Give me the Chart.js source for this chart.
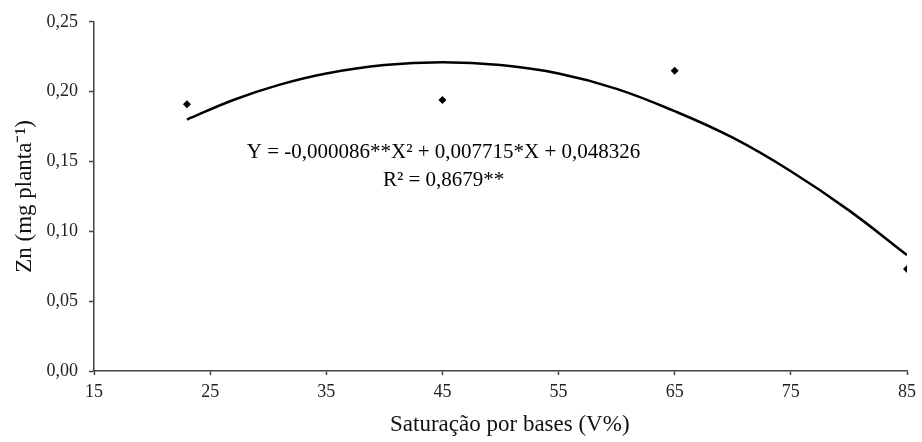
<!DOCTYPE html>
<html>
<head>
<meta charset="utf-8">
<script src="https://cdn.jsdelivr.net/npm/chart.js@4.4.1/dist/chart.umd.min.js"></script>
<style>
  html, body { margin: 0; padding: 0; background: #fff; }
  #wrap { width: 922px; height: 442px; }
</style>
</head>
<body>
<div id="wrap"><canvas id="znChart" width="922" height="442"></canvas></div>
<script>
// observed points (V% vs Zn)
var obsX = [23, 45, 65, 85];
var obsY = [0.191, 0.194, 0.215, 0.073];

// fitted curve
var fitX = [23, 27, 31, 35, 40, 45, 50, 55, 60, 65, 70, 75, 80, 85];
var fitY = [0.180, 0.194, 0.205, 0.213, 0.219, 0.221, 0.219, 0.213, 0.202, 0.186, 0.167, 0.143, 0.115, 0.083];

var xTicks = [15, 25, 35, 45, 55, 65, 75, 85];
var yTicks = [0, 0.05, 0.10, 0.15, 0.20, 0.25];

var xTitle = 'Saturação por bases (V%)';
var yTitle = 'Zn (mg planta⁻¹)';
var eqLine1 = 'Y = -0,000086**X² + 0,007715*X + 0,048326';
var eqLine2 = 'R² = 0,8679**';

var serif = "'Liberation Serif', 'Times New Roman', serif";
var axisCol = '#444';

// equation + x title (title sits a bit right of the axis centre in the original)
var textPlugin = {
    id: 'eqText',
    afterDraw: function(chart) {
        var c = chart.ctx;
        var xs = chart.scales.x, ys = chart.scales.y;
        c.save();
        c.fillStyle = '#000';
        c.textAlign = 'center';
        c.textBaseline = 'middle';
        c.font = '21px ' + serif;
        c.fillText(eqLine1, xs.getPixelForValue(45.1), ys.getPixelForValue(0.1564));
        c.fillText(eqLine2, xs.getPixelForValue(45.1), ys.getPixelForValue(0.1364));
        c.fillStyle = '#111';
        c.font = '23px ' + serif;
        c.fillText(xTitle, xs.getPixelForValue(50.8), chart.height - 17);
        c.restore();
    }
};

var ctx = document.getElementById('znChart').getContext('2d');
var znChart = new Chart(ctx, {
    type: 'scatter',
    data: {
        datasets: [{
            label: 'fit',
            data: fitX.map(function(x, i) { return {x: x, y: fitY[i]}; }),
            showLine: true,
            borderColor: '#000',
            borderWidth: 2.5,
            tension: 0.4,
            pointRadius: 0,
            fill: false
        }, {
            label: 'obs',
            data: obsX.map(function(x, i) { return {x: x, y: obsY[i]}; }),
            pointStyle: 'rectRot',
            pointRadius: 4,
            backgroundColor: '#000',
            borderColor: '#000',
            borderWidth: 0
        }]
    },
    options: {
        responsive: false,
        animation: false,
        layout: { padding: { top: 21, right: 12, left: 0, bottom: 0 } },
        plugins: {
            legend: { display: false },
            tooltip: { enabled: false }
        },
        scales: {
            x: {
                type: 'linear',
                min: 15, max: 85,
                afterBuildTicks: function(s) { s.ticks = xTicks.map(function(v) { return {value: v}; }); },
                afterFit: function(s) { s.height = 71; },
                grid: { drawOnChartArea: false, drawTicks: true, tickLength: 4, color: axisCol, tickWidth: 1.5 },
                border: { color: axisCol, width: 1.5 },
                ticks: {
                    color: '#222', padding: 6,
                    font: { family: serif, size: 18 },
                    maxRotation: 0,
                    callback: function(v) { return String(v); }
                }
            },
            y: {
                min: 0, max: 0.25,
                afterBuildTicks: function(s) { s.ticks = yTicks.map(function(v) { return {value: v}; }); },
                afterFit: function(s) { s.width = 94; },
                grid: { drawOnChartArea: false, drawTicks: true, tickLength: 5, color: axisCol, tickWidth: 1.5 },
                border: { color: axisCol, width: 1.5 },
                ticks: {
                    color: '#222', padding: 11,
                    font: { family: serif, size: 18 },
                    callback: function(v) { return v.toFixed(2).replace('.', ','); }
                },
                title: {
                    display: true,
                    text: yTitle,
                    color: '#111',
                    font: { family: serif, size: 23 },
                    padding: { top: 11, bottom: 0 }
                }
            }
        }
    },
    plugins: [textPlugin]
});
</script>
</body>
</html>
